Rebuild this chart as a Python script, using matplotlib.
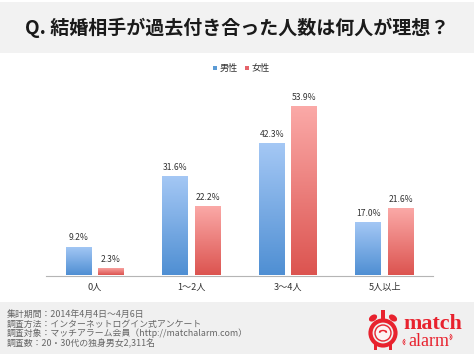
import numpy as np
import matplotlib
matplotlib.use('Agg')
import matplotlib.pyplot as plt
from matplotlib.colors import LinearSegmentedColormap
from matplotlib.patches import Rectangle, Circle, Ellipse, Arc

plt.rcParams['font.family'] = ['Noto Sans CJK JP', 'DejaVu Sans']

categories = ['0人', '1～2人', '3～4人', '5人以上']
male = [9.2, 31.6, 42.3, 17.0]
female = [2.3, 22.2, 53.9, 21.6]
series_names = ['男性', '女性']

title = 'Q. 結婚相手が過去付き合った人数は何人が理想？'
footer_lines = [
    '集計期間：2014年4月4日～4月6日',
    '調査方法：インターネットログイン式アンケート',
    '調査対象：マッチアラーム会員（http://matchalarm.com）',
    '調査数：20・30代の独身男女2,311名',
]

W, H = 474, 355
RED = '#e8222e'
TEXT = '#333333'

fig = plt.figure(figsize=(W / 100, H / 100), dpi=100)

# background layer in pixel coordinates
bg = fig.add_axes([0, 0, 1, 1])
bg.set_xlim(0, W)
bg.set_ylim(H, 0)
bg.axis('off')
bg.add_patch(Rectangle((0, 2), W, 51, color='#f2f2f2', lw=0))
bg.add_patch(Rectangle((0, 302), W, 52, color='#f0f0f0', lw=0))

bg.text(237, 27.5, title, ha='center', va='center', fontsize=13.7, fontweight='bold', color='#1a1a1a')

for i, line in enumerate(footer_lines):
    bg.text(7, 314.5 + i * 9.6, line, ha='left', va='center', fontsize=6.4, color='#666666')

# legend
bg.add_patch(Rectangle((213, 66), 4, 4, color='#5b9bd5', lw=0))
bg.text(220, 68.5, series_names[0], ha='left', va='center', fontsize=6.6, color=TEXT)
bg.add_patch(Rectangle((245, 66), 4, 4, color='#e5636a', lw=0))
bg.text(252, 68.5, series_names[1], ha='left', va='center', fontsize=6.6, color=TEXT)

# chart
ax_left, ax_right, ax_top, ax_bottom = 46.4, 433, 85, 275.5
ax = fig.add_axes([ax_left / W, 1 - ax_bottom / H, (ax_right - ax_left) / W, (ax_bottom - ax_top) / H])
ax.patch.set_alpha(0)
x = np.arange(len(categories))
bar_w = 0.268
offset = 0.168

blue_cmap = LinearSegmentedColormap.from_list('blue', ['#4f8fd3', '#a5c8f5'])
red_cmap = LinearSegmentedColormap.from_list('red', ['#dc5450', '#fbaaa8'])
grad = np.linspace(0, 1, 128).reshape(-1, 1)


def gradient_bars(xs, values, cmap):
    bars = ax.bar(xs, values, bar_w, color='none', linewidth=0)
    for bar, v in zip(bars, values):
        left = bar.get_x()
        # each bar fades from its base to its own top
        im = ax.imshow(grad, cmap=cmap, origin='lower', aspect='auto',
                       extent=(left, left + bar_w, 0, v), zorder=2)
        im.set_clip_path(bar)
        ax.annotate(f'{v:.1f}%', (left + bar_w / 2, v), xytext=(0, 3), textcoords='offset points',
                    ha='center', va='bottom', fontsize=6.2, color=TEXT)


gradient_bars(x - offset, male, blue_cmap)
gradient_bars(x + offset, female, red_cmap)
ax.set_xlim(-0.5, len(categories) - 0.5)
ax.set_ylim(0, (ax_bottom - ax_top) / 3.14)

for s in ['top', 'left', 'right']:
    ax.spines[s].set_visible(False)
ax.spines['bottom'].set_color('#b5b5b5')
ax.spines['bottom'].set_linewidth(0.8)
ax.set_yticks([])
ax.set_xticks(x)
ax.set_xticklabels(categories, fontsize=6.6, color=TEXT)
ax.tick_params(axis='x', length=0, pad=5.5)

# logo
cx, cy = 383, 333
bg.add_patch(Circle((cx, cy), 12.5, fc='none', ec=RED, lw=3.0))
bg.add_patch(Circle((cx, cy), 8, fc='#fdf3f3', ec=RED, lw=1.0))
bg.add_patch(Circle((cx - 2.8, cy - 1.5), 1.0, color=RED, lw=0))
bg.add_patch(Circle((cx + 2.8, cy - 1.5), 1.0, color=RED, lw=0))
bg.add_patch(Arc((cx, cy + 1), 8, 7, theta1=200, theta2=340, color=RED, lw=1.0))
bg.add_patch(Ellipse((cx - 10, cy - 15), 9, 6, angle=-35, color=RED, lw=0))
bg.add_patch(Ellipse((cx + 10, cy - 15), 9, 6, angle=35, color=RED, lw=0))
bg.add_patch(Rectangle((cx - 2, cy - 23), 4, 10, color=RED, lw=0))
bg.add_patch(Rectangle((cx - 9, cy + 11), 3, 6, color=RED, lw=0))
bg.add_patch(Rectangle((cx + 6, cy + 11), 3, 6, color=RED, lw=0))
bg.text(403, 329, 'match', ha='left', va='baseline', fontsize=15.8, fontweight='bold',
        family='Liberation Serif', color=RED)
bg.text(408, 346.5, 'alarm', ha='left', va='baseline', fontsize=13,
        family='Liberation Serif', color=RED)
# little sound waves either side of "alarm"
for r in (3, 6):
    bg.add_patch(Arc((406, 342), r, r, theta1=110, theta2=250, color=RED, lw=0.6))
    bg.add_patch(Arc((449, 337), r, r, theta1=-70, theta2=70, color=RED, lw=0.6))

fig.savefig('out.png', dpi=100)
